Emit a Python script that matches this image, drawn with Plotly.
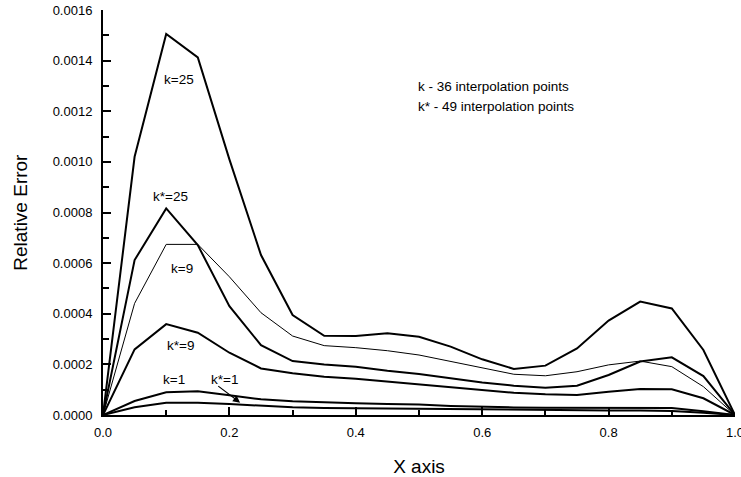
import plotly.graph_objects as go

# Sample positions along the x axis
x_vals = [0.00, 0.05, 0.10, 0.15, 0.20, 0.25, 0.30, 0.35, 0.40, 0.45, 0.50,
          0.55, 0.60, 0.65, 0.70, 0.75, 0.80, 0.85, 0.90, 0.95, 1.00]

# Relative error curves (k: 36 interpolation points, k*: 49 interpolation points)
err_k25 = [0, 0.00102, 0.001505, 0.001413, 0.00101, 0.000632, 0.000395, 0.000313,
           0.000312, 0.000323, 0.000309, 0.00027, 0.00022, 0.000182, 0.000195,
           0.000263, 0.000373, 0.000448, 0.000421, 0.000257, 0]
err_kstar25 = [0, 0.000612, 0.000816, 0.000671, 0.00043, 0.000276, 0.000213, 0.0002,
               0.000191, 0.000175, 0.000162, 0.000145, 0.000128, 0.000116, 0.000108,
               0.000116, 0.000158, 0.000211, 0.000228, 0.000154, 0]
err_k9 = [0, 0.000441, 0.000674, 0.000674, 0.000546, 0.000404, 0.000312, 0.000274,
          0.000266, 0.000254, 0.000237, 0.000212, 0.000187, 0.000161, 0.000155,
          0.000171, 0.000198, 0.000213, 0.000191, 0.000112, 0]
err_kstar9 = [0, 0.000259, 0.000359, 0.000325, 0.000246, 0.000184, 0.000165, 0.000151,
              0.000143, 0.000132, 0.000121, 0.000109, 0.0000988, 0.000088, 0.000082,
              0.000079, 0.000092, 0.000103, 0.000102, 0.000066, 0]
err_k1 = [0, 0.0000553, 0.0000897, 0.0000936, 0.000078, 0.000062, 0.000054, 0.000049,
          0.000046, 0.000043, 0.000041, 0.000036, 0.000032, 0.00003, 0.000029,
          0.000029, 0.00003, 0.00003, 0.000028, 0.000015, 0]
err_kstar1 = [0, 0.0000304, 0.0000486, 0.0000486, 0.000043, 0.000036, 0.000031, 0.000028,
              0.000027, 0.000025, 0.000024, 0.000022, 0.00002, 0.000019, 0.000018,
              0.000018, 0.000018, 0.000018, 0.000016, 0.000009, 0]

series = [
    ("k=25", err_k25, 2.0),
    ("k*=25", err_kstar25, 2.0),
    ("k=9", err_k9, 1.0),
    ("k*=9", err_kstar9, 2.0),
    ("k=1", err_k1, 2.0),
    ("k*=1", err_kstar1, 2.0),
]

FONT = "Liberation Sans, Arial, sans-serif"
LABEL_SIZE = 13.5

fig = go.Figure()
for name, ys, w in series:
    fig.add_trace(go.Scatter(x=x_vals, y=ys, mode="lines", name=name,
                             line=dict(color="black", width=w),
                             showlegend=False, cliponaxis=False))

# Curve labels
curve_labels = [
    ("k=25", 0.120, 0.001327),
    ("k*=25", 0.107, 0.000862),
    ("k=9", 0.125, 0.000579),
    ("k*=9", 0.123, 0.000273),
    ("k=1", 0.113, 0.000142),
    ("k*=1", 0.192, 0.000142),
]
for txt, ax_, ay_ in curve_labels:
    fig.add_annotation(x=ax_, y=ay_, text=txt, showarrow=False,
                       xref="x", yref="y",
                       font=dict(family=FONT, size=LABEL_SIZE, color="black"))

# Arrow pointing at the k*=1 curve
fig.add_annotation(x=0.217, y=0.0000486, ax=0.180, ay=0.0001185,
                   xref="x", yref="y", axref="x", ayref="y", text="",
                   showarrow=True, arrowhead=2, arrowsize=1.2, arrowwidth=1.2,
                   arrowcolor="black")

# Explanatory notes
fig.add_annotation(x=0.495, y=0.001296, text="k - 36 interpolation points",
                   showarrow=False, xanchor="left", xref="x", yref="y",
                   font=dict(family=FONT, size=LABEL_SIZE, color="black"))
fig.add_annotation(x=0.495, y=0.001217, text="k* - 49 interpolation points",
                   showarrow=False, xanchor="left", xref="x", yref="y",
                   font=dict(family=FONT, size=LABEL_SIZE, color="black"))

# Vertical axis title
fig.add_annotation(x=-0.131, y=0.5, xref="paper", yref="paper", text="Relative Error",
                   textangle=-90, showarrow=False, xanchor="center", yanchor="middle",
                   font=dict(family=FONT, size=19, color="black"))

axis_common = dict(showline=True, linecolor="black", linewidth=2, showgrid=False,
                   zeroline=False, ticks="inside", ticklen=8, tickwidth=1.5,
                   tickcolor="black", mirror=False, automargin=False,
                   tickfont=dict(family=FONT, size=13, color="black"))

fig.update_xaxes(range=[0, 1], dtick=0.2, tickformat=".1f",
                 minor=dict(dtick=0.1, ticks="inside", ticklen=5, tickwidth=1.5,
                            tickcolor="black"),
                 ticklabeloverflow="allow", ticklabelstandoff=4,
                 title=dict(text="X axis", font=dict(family=FONT, size=19, color="black")),
                 **axis_common)
fig.update_yaxes(range=[0, 0.0016], dtick=0.0002, tickformat=".4f",
                 minor=dict(dtick=0.0001, ticks="inside", ticklen=6, tickwidth=1.5,
                            tickcolor="black"),
                 ticklabeloverflow="allow", ticklabelstandoff=6,
                 **axis_common)

fig.update_layout(width=741, height=477, autosize=False, template="none",
                  margin=dict(l=103, r=6, t=10, b=62),
                  plot_bgcolor="white", paper_bgcolor="white",
                  font=dict(family=FONT, color="black"))

fig.write_html("out.html")
